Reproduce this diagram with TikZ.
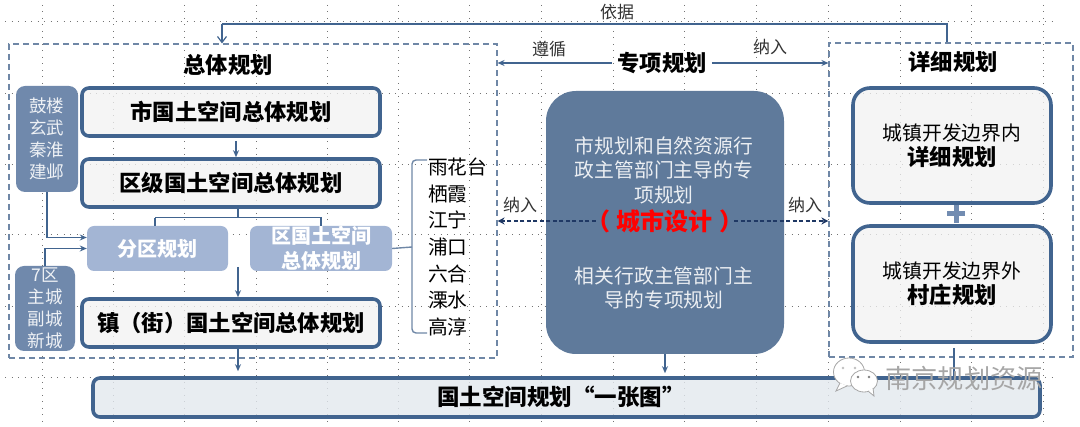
\documentclass[tikz,border=0pt]{standalone}
\usepackage{fontspec}
\setmainfont{Noto Sans CJK SC}
\usetikzlibrary{arrows.meta,positioning,calc}
\definecolor{planblue}{HTML}{41648F}
\definecolor{frameblue}{HTML}{6F87A6}
\definecolor{paleblue}{HTML}{A3B5D4}
\definecolor{sideblue}{HTML}{7089AC}
\definecolor{coreblue}{HTML}{5F7A9B}
\definecolor{navy}{HTML}{1F3864}
\tikzset{
  planbox/.style={draw=planblue,line width=3.6pt,fill=black!5,fill opacity=.75,text opacity=1,rounded corners=7pt,font=\bfseries\fontsize{22.3}{25}\selectfont,align=center,inner sep=0pt},
  detailbox/.style={planbox,rounded corners=17pt,font=\fontsize{19.8}{25}\selectfont},
  subbox/.style={fill=paleblue,rounded corners=7pt,text=white,font=\bfseries\fontsize{20}{25}\selectfont,align=center,inner sep=0pt},
  sidebox/.style={fill=sideblue,rounded corners=9pt,text=white!88!sideblue,font=\fontsize{17.5}{22}\selectfont,align=center,inner sep=0pt},
  planframe/.style={draw=frameblue,line width=1.1pt,dash pattern=on 6pt off 4pt,inner sep=0pt},
  title/.style={font=\bfseries\fontsize{22.3}{25}\selectfont,inner sep=0pt},
  small/.style={font=\fontsize{17}{20}\selectfont,text=black!80,inner sep=0pt},
  arrow/.style={draw=planblue,line width=1.2pt,-{Stealth[length=7pt,width=6pt]}},
  link/.style={draw=planblue,line width=1.2pt},
  duallink/.style={navy,line width=2pt,dash pattern=on 4pt off 2.5pt,-{Stealth[length=7pt,width=7pt]}},
  griddot/.style={draw=black!55,line width=.8pt,dash pattern=on 1pt off 5.5pt},
  bubble/.style={draw=black!35,fill=white,line width=.8pt},
}
\begin{document}
\begin{tikzpicture}[x=1pt,y=-1pt]
    \useasboundingbox (0,0) rectangle (1080,427);
    % Grid
    \foreach \x in {42,113,184,256,327,398,469,541,613,684,756,828,900,971,1043} \draw [griddot] (\x,5) -- (\x,422);
    \foreach \y in {21,93,164,234,306,377} \draw [griddot] (5,\y) -- (1056,\y);
    % Frames
    \node [planframe,minimum width=488pt,minimum height=314pt] (overall) at (253,201) {};
    \node [planframe,minimum width=244pt,minimum height=314pt] (detail) at (951,200) {};
    % Titles
    \node [title] (overalltitle) at (228,65) {总体规划};
    \node [title] (specialtitle) at (662,63) {专项规划};
    \node [title] (detailtitle) at (953,62) {详细规划};
    % Overall plans
    \node [planbox,minimum width=298pt,minimum height=48pt] (cityplan) at (231,112) {市国土空间总体规划};
    \node [planbox,minimum width=298pt,minimum height=48pt] (distplan) at (231,183) {区级国土空间总体规划};
    \node [planbox,minimum width=298pt,minimum height=48pt] (townplan) at (231,323) {镇（街）国土空间总体规划};
    \node [subbox,minimum width=141pt,minimum height=45pt] (zoneplan) at (157.5,248.5) {分区规划};
    \node [subbox,minimum width=142pt,minimum height=45pt] (countyplan) at (321,248.5) {区国土空间\\总体规划};
    % Side lists
    \node [sidebox,minimum width=62pt,minimum height=106pt] (oldcity) at (47,139) {鼓楼\\玄武\\秦淮\\建邺};
    \node [sidebox,minimum width=60pt,minimum height=85pt] (newcity) at (45,308.5) {7区\\主城\\副城\\新城};
    \node [align=left,inner sep=0pt,font=\fontsize{19.7}{26.6}\selectfont,anchor=west] (districts) at (428,247) {雨花台\\栖霞\\江宁\\浦口\\六合\\溧水\\高淳};
    % Centre
    \node [fill=coreblue,rounded corners=30pt,minimum width=238pt,minimum height=263pt,inner sep=0pt] (core) at (665,222.5) {};
    \node [text=white!88!coreblue,font=\fontsize{19.8}{24.5}\selectfont,align=center,inner sep=0pt] (coretop) at (664,170) {市规划和自然资源行\\政主管部门主导的专\\项规划};
    \node [text=red,font=\bfseries\fontsize{24}{25}\selectfont,inner sep=0pt] (design) at (665,221) {（\hspace{7pt}城市设计\hspace{7pt}）};
    \node [text=white!88!coreblue,font=\fontsize{19.8}{24.5}\selectfont,align=center,inner sep=0pt] (corelow) at (664,288) {相关行政主管部门主\\导的专项规划};
    % Detail plans
    \node [detailbox,minimum width=198pt,minimum height=115pt] (innerplan) at (952,145.5) {城镇开发边界内\\{\bfseries\fontsize{22.3}{25}\selectfont 详细规划}};
    \node [detailbox,minimum width=198pt,minimum height=116pt] (outerplan) at (952,284) {城镇开发边界外\\{\bfseries\fontsize{22.3}{25}\selectfont 村庄规划}};
    \draw [draw=paleblue!50!planblue,line width=5pt] (947,214) -- (965,214) (956,205) -- (956,223);
    % Map bar
    \node [planbox,fill=planblue!15,fill opacity=.8,minimum width=947pt,minimum height=39pt] (mapbar) at (566.5,397.5) {};
    \node [font=\bfseries\fontsize{22.5}{25}\selectfont,inner sep=0pt] (maptext) at (561,397) {国土空间规划“一张图”};
    % Connectors
    \draw [arrow] ([xshift=5pt,yshift=-3pt]cityplan.south) -- ([xshift=5pt]distplan.north);
    \draw [link] ([xshift=7pt]distplan.south) -- ++(0,9) coordinate (fork);
    \draw [link] (fork -| zoneplan) ++(-2.5,0) coordinate (forkl) -- (fork -| countyplan) -- (countyplan.north);
    \draw [link] (forkl) -- (forkl |- zoneplan.north);
    \coordinate (gapmid) at (238,267);
    \draw [arrow] (gapmid) -- (gapmid |- townplan.north);
    \draw [arrow] ([xshift=7pt]townplan.south) -- ([xshift=7pt,yshift=5pt]mapbar.north -| townplan);
    \draw [arrow] (oldcity.south) |- ([yshift=11pt]zoneplan.west);
    \draw [arrow] (newcity.north) |- (zoneplan.west);
    \draw [arrow] (core.south) -- ([yshift=3pt]core.south |- mapbar.north);
    \draw [link] ([xshift=2pt,yshift=-4pt]outerplan.south) -- ([xshift=2pt]outerplan.south |- mapbar.north);
    % Top link
    \coordinate (topturn) at (222,24);
    \draw [link] ([xshift=-4pt]detail.north) |- (topturn);
    \draw [draw=planblue,line width=1.2pt,-{Straight Barb[length=6pt,width=9pt]}] (topturn) -- (topturn |- overall.north);
    \node [small] (basis) at (617,12) {依据};
    \draw [arrow] (specialtitle.west) ++(-5,0) -- (overall.east |- specialtitle);
    \draw [arrow] (specialtitle.east) ++(5,0) -- (detail.west |- specialtitle);
    \node [small] (follow) at (549,49) {遵循};
    \node [small] (include) at (770,47) {纳入};
    \draw [duallink] ([xshift=10pt]design.west) -- (overall.east |- design);
    \draw [duallink] ([xshift=-10pt]design.east) -- (detail.west |- design);
    \node [small] (includel) at (520,205) {纳入};
    \node [small] (includer) at (805,205) {纳入};
    % Bracket
    \coordinate (bracetop) at (427,160);
    \coordinate (bracelow) at (427,333);
    \draw [link,draw=frameblue,line width=1.4pt,rounded corners=4pt] (bracetop) -- (412,160) -- (412,333) -- (bracelow);
    \draw [link,draw=frameblue,line width=1.4pt] (countyplan.east) -- (412,247);
    % Watermark
    \node [font=\fontsize{26.3}{30}\selectfont,text=black!35,inner sep=0pt,anchor=west] (mark) at (885,378) {南京规划资源};
    \draw [bubble] (849,372) ellipse (15.5pt and 14pt);
    \draw [bubble] (840,383) -- (836,391) -- (847,386);
    \fill [black!25] (843,368) circle (1.4pt) (855,368) circle (1.4pt);
    \draw [bubble] (864,381) ellipse (13.5pt and 11pt);
    \draw [bubble] (868,391) -- (874,396) -- (873,388);
    \fill [black!50] (858,377) circle (1.4pt) (869,377) circle (1.4pt);
\end{tikzpicture}
\end{document}
